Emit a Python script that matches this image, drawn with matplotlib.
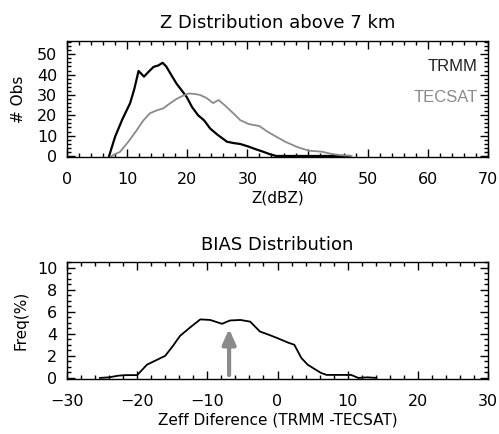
import numpy as np
import matplotlib.pyplot as plt
from matplotlib.ticker import MultipleLocator

# -----------------------------
# Data
# -----------------------------
trmm_z = [7.0, 8.0, 9.2, 10.5, 11.2, 11.9, 12.8, 13.6, 14.4, 15.2, 15.9, 16.5,
          17.3, 18.2, 19.0, 19.9, 20.8, 21.8, 22.8, 23.8, 25.0, 26.6, 27.8,
          28.8, 30.2, 31.4, 32.6, 33.8, 34.8, 47.0]
trmm_n = [0.0, 9.5, 18.0, 26.0, 33.0, 41.8, 39.0, 41.5, 43.8, 44.5, 45.8, 44.0,
          40.0, 35.6, 32.5, 29.0, 24.0, 20.0, 17.5, 13.5, 10.5, 7.0, 6.3,
          5.9, 4.6, 3.3, 2.1, 0.8, 0.0, 0.0]

tecsat_z = [7.4, 8.8, 10.2, 11.6, 12.7, 13.8, 15.0, 16.0, 17.1, 18.2, 19.2,
            20.2, 21.2, 22.1, 23.2, 24.3, 25.2, 26.2, 27.1, 28.0, 28.8, 30.2,
            32.0, 33.3, 34.6, 36.3, 38.2, 40.2, 42.4, 44.0, 45.5, 47.3]
tecsat_n = [0.0, 2.0, 7.0, 12.7, 17.5, 21.0, 22.5, 23.4, 25.8, 28.0, 29.5,
            30.7, 30.5, 30.0, 28.5, 26.0, 27.5, 25.0, 22.5, 20.0, 17.6, 15.7,
            14.7, 12.0, 9.8, 7.0, 4.5, 2.6, 2.1, 1.0, 0.4, 0.0]

bias_x = [-25.3, -24.0, -22.7, -21.7, -20.0, -18.6, -17.3, -16.0, -14.9,
          -13.9, -12.4, -11.0, -9.6, -7.9, -6.8, -5.3, -3.9, -2.5, -1.2, 0.0,
          1.5, 2.4, 3.4, 4.3, 5.3, 6.2, 7.0, 8.5, 10.5, 11.5, 12.8, 14.1]
bias_f = [0.0, 0.05, 0.2, 0.25, 0.25, 1.2, 1.6, 2.0, 2.9, 3.8, 4.6, 5.3, 5.25,
          4.9, 5.2, 5.25, 5.1, 4.2, 3.9, 3.6, 3.2, 3.0, 1.8, 1.2, 0.8, 0.45,
          0.27, 0.27, 0.27, 0.0, 0.05, 0.0]

bias_peak = -6.9
arrow_top = 4.7

GRAY = "#8a8a8a"


def style_axes(ax, xmajor, ymajor, yminor):
    ax.xaxis.set_major_locator(MultipleLocator(xmajor))
    ax.xaxis.set_minor_locator(MultipleLocator(xmajor / 5))
    ax.yaxis.set_major_locator(MultipleLocator(ymajor))
    ax.yaxis.set_minor_locator(MultipleLocator(yminor))
    ax.tick_params(which="both", direction="in", top=True, right=True,
                   width=1.0, labelsize=11.5)
    ax.tick_params(axis="x", pad=11)
    ax.tick_params(axis="y", pad=7)
    ax.tick_params(which="major", length=6)
    ax.tick_params(which="minor", length=3)
    for s in ax.spines.values():
        s.set_linewidth(1.0)


plt.rcParams["font.family"] = ["DejaVu Sans"]

fig = plt.figure(figsize=(4.99, 4.34), dpi=100)

# -----------------------------
# Top panel: Z distribution
# -----------------------------
ax1 = fig.add_axes([67 / 499, 1 - 157 / 434, 421 / 499, 116 / 434])
ax1.plot(trmm_z, trmm_n, color="black", lw=1.6)
ax1.plot(tecsat_z, tecsat_n, color=GRAY, lw=1.3)
ax1.set_xlim(0, 70)
ax1.set_ylim(-0.5, 56.5)
style_axes(ax1, 10, 10, 2)
ax1.set_title("Z Distribution above 7 km", fontsize=13, pad=9)
ax1.set_xlabel("Z(dBZ)", fontsize=11, labelpad=2)
ax1.set_ylabel("# Obs", fontsize=11, labelpad=8)
ax1.text(0.975, 0.78, "TRMM", transform=ax1.transAxes, ha="right",
         va="center", fontsize=12, family="Liberation Sans", color="#222222")
ax1.text(0.975, 0.51, "TECSAT", transform=ax1.transAxes, ha="right",
         va="center", fontsize=12, family="Liberation Sans", color=GRAY)

# -----------------------------
# Bottom panel: bias distribution
# -----------------------------
ax2 = fig.add_axes([67 / 499, 1 - 379 / 434, 421 / 499, 117 / 434])
ax2.plot(bias_x, bias_f, color="black", lw=1.3)
ax2.annotate("", xy=(bias_peak, arrow_top), xytext=(bias_peak, 0.0),
             arrowprops=dict(arrowstyle="-|>,head_width=0.4,head_length=0.9",
                             color=GRAY, lw=3))
ax2.set_xlim(-30, 30)
ax2.set_ylim(-0.1, 10.5)
style_axes(ax2, 10, 2, 0.5)
ax2.set_title("BIAS Distribution", fontsize=13, pad=9)
ax2.set_xlabel("Zeff Diference (TRMM -TECSAT)", fontsize=11, labelpad=2)
ax2.set_ylabel("Freq(%)", fontsize=11, labelpad=6)

fig.savefig("out.png", dpi=100)
